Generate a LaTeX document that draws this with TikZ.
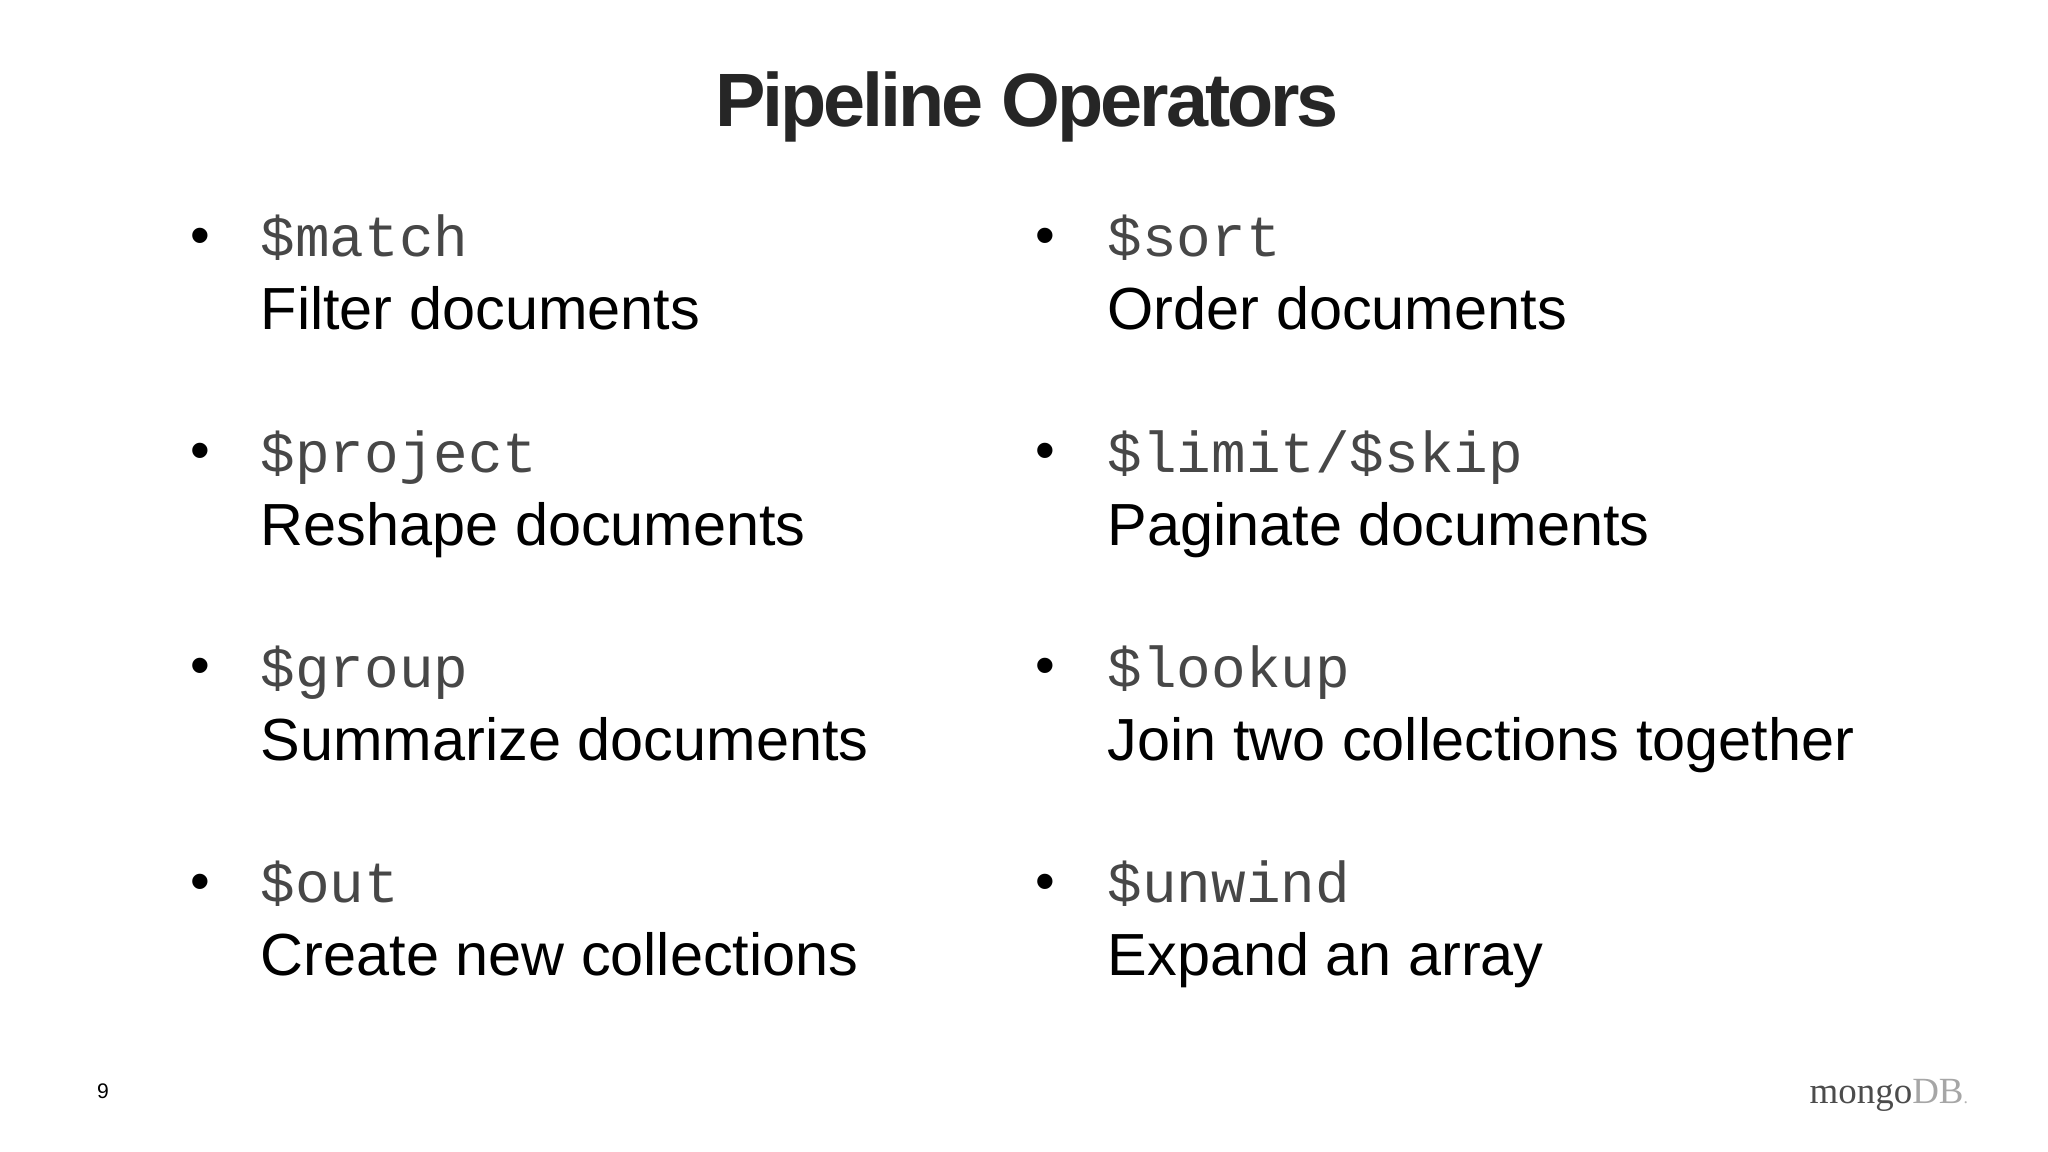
\documentclass[tikz,border=0pt]{standalone}
\usepackage{fontspec}
\setmainfont{Liberation Sans}
\newfontfamily\monof{Liberation Mono}
\newfontfamily\seriff{Liberation Serif}
\newfontfamily\titlef[LetterSpace=-4]{Liberation Sans}
\begin{document}
\begin{tikzpicture}[x=0.01cm,y=-0.01cm,
  op/.style={anchor=base west,inner sep=0,font=\monof\fontsize{16.4pt}{18pt}\selectfont,text=black!72},
  desc/.style={anchor=base west,inner sep=0,font=\fontsize{16.9pt}{19pt}\selectfont,text=black},
  bul/.style={anchor=base,inner sep=0,font=\fontsize{16pt}{18pt}\selectfont}]
\fill[white] (0,0) rectangle (2048,1152);
\useasboundingbox (0,0) rectangle (2048,1152);
\node[anchor=base,inner sep=0,font=\titlef\bfseries\fontsize{21.5pt}{24pt}\selectfont,text=black!85] (title) at (1027,127) {Pipeline Operators};
\foreach \i/\o/\d in {0/\$match/Filter documents,1/\$project/Reshape documents,2/\$group/Summarize documents,3/\$out/Create new collections}{
  \node[bul] (lb\i) at (200,255+215*\i) {•};
  \node[op] (lo\i) at (260,257+215*\i) {\o};
  \node[desc] (ld\i) at (260,330+215*\i) {\d};
}
\foreach \i/\d in {0/Order documents,1/Paginate documents,2/Join two collections together,3/Expand an array}{
  \node[bul] (rb\i) at (1045,255+215*\i) {•};
  \node[desc] (rd\i) at (1107,330+215*\i) {\d};
}
\node[op] (ro0) at (1107,257) {\$sort};
\node[op] (ro1) at (1107,472) {\$limit/\$skip};
\node[op] (ro2) at (1107,687) {\$lookup};
\node[op] (ro3) at (1107,902) {\$unwind};
\node[anchor=base,inner sep=0,font=\fontsize{6pt}{7pt}\selectfont] (pg) at (103,1098) {9};
\node[anchor=base west,inner sep=0,font=\seriff\fontsize{10.5pt}{12pt}\selectfont] (logo) at (1809,1103) {\textcolor{black!70}{mongo}\textcolor{black!35}{DB}\textcolor{black!30}{\tiny.}};
\end{tikzpicture}
\end{document}
